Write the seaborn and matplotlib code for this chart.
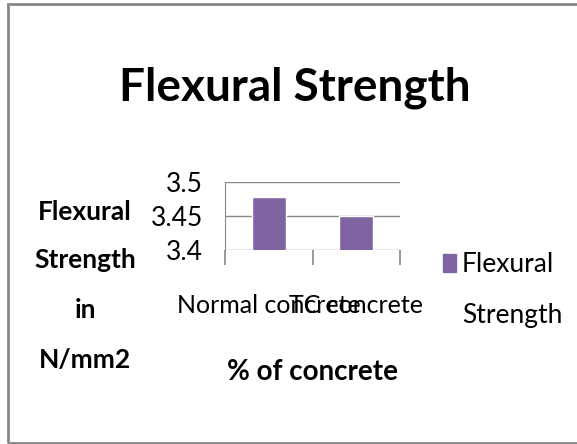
import numpy as np
import pandas as pd
import seaborn as sns
import matplotlib.pyplot as plt
from matplotlib.patches import Rectangle

# values
categories = ['Normal concrete', 'TC concrete']
strength = [3.478, 3.45]
y_ticks = [3.4, 3.45, 3.5]
y_tick_labels = ['3.4', '3.45', '3.5']

data = pd.DataFrame({'concrete': categories, 'strength': strength})

sns.set_style('white')
plt.rcParams['font.family'] = ['Lato', 'DejaVu Sans']
plt.rcParams['text.color'] = 'black'
plt.rcParams['xtick.color'] = 'black'
plt.rcParams['ytick.color'] = 'black'
plt.rcParams['axes.labelcolor'] = 'black'

fig = plt.figure(figsize=(5.77, 4.44), dpi=100)
ax = fig.add_axes([225 / 577, 1 - 250 / 444, 175 / 577, 68 / 444])

sns.barplot(x='concrete', y='strength', data=data, color='#8064A2',
            width=0.39, saturation=1, ax=ax)

ax.set_ylim(3.4, 3.5)
ax.set_xlim(-0.5, 1.5)
ax.set_yticks(y_ticks)
ax.set_yticklabels(y_tick_labels, fontsize=19)
ax.tick_params(axis='y', length=6, color='#888888', labelcolor='black', pad=10)
ax.set_xticks([0, 1])
ax.set_xticklabels(categories, fontsize=18)
ax.set_xticks([-0.5, 0.5, 1.5], minor=True)
ax.tick_params(axis='x', which='major', length=0, pad=32, labelcolor='black')
ax.tick_params(axis='x', which='minor', bottom=True, length=11,
               color='#888888', width=1.2)
ax.yaxis.grid(True, color='#888888', linewidth=1)
ax.set_axisbelow(True)
for s in ['top', 'right', 'bottom']:
    ax.spines[s].set_visible(False)
ax.spines['left'].set_color('#888888')
ax.spines['left'].set_bounds(3.4, 3.5)

ax.set_xlabel('% of concrete', fontsize=20, fontweight='bold', labelpad=30)
ax.set_ylabel('')

# y label as stacked horizontal lines
for txt, yy in zip(['Flexural', 'Strength', 'in', 'N/mm2'], [212, 260, 310, 360]):
    fig.text(85 / 577, 1 - yy / 444, txt, fontsize=19, fontweight='bold',
             ha='center', va='center')

fig.text(295 / 577, 1 - 88 / 444, 'Flexural Strength', fontsize=33,
         fontweight='bold', ha='center', va='center')

# legend
fig.patches.append(Rectangle((443 / 577, 1 - 272 / 444), 13 / 577, 18 / 444,
                             transform=fig.transFigure, color='#8064A2'))
fig.text(462 / 577, 1 - 264 / 444, 'Flexural', fontsize=19, va='center')
fig.text(462 / 577, 1 - 316 / 444, 'Strength', fontsize=19, va='center')

# outer frame
fig.patches.append(Rectangle((8 / 577, 0.002), 1, 1 - 4 / 444 - 0.002,
                             transform=fig.transFigure, fill=False,
                             edgecolor='#888888', linewidth=2))

fig.savefig('out.png', dpi=100)
